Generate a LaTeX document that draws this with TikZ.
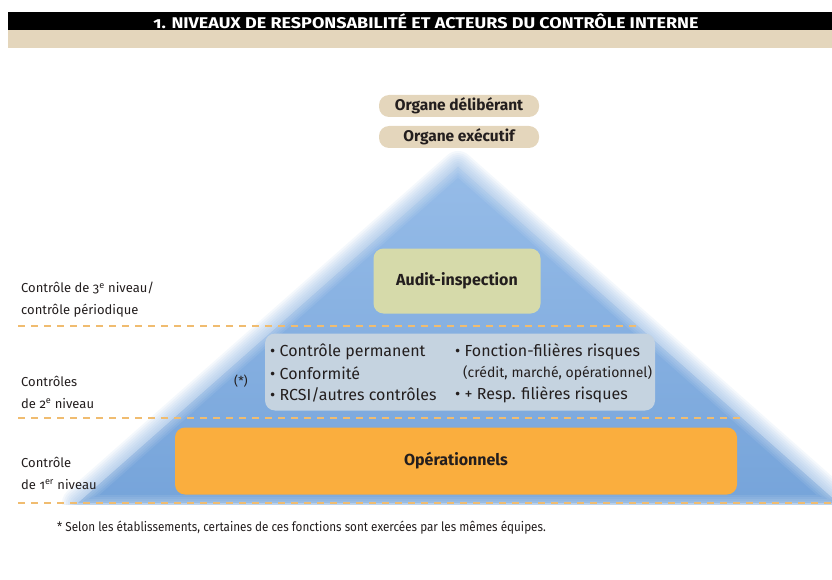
\documentclass[tikz,border=0pt]{standalone}
\usepackage{fontspec}
\setmainfont{Fira Sans}[Numbers=OldStyle]
\usetikzlibrary{positioning}

\definecolor{beige}{RGB}{228,214,188}
\definecolor{pyrblue}{RGB}{118,164,218}
\definecolor{pyrtop}{RGB}{150,188,232}
\definecolor{auditgreen}{RGB}{214,218,170}
\definecolor{ctrlgrey}{RGB}{197,211,224}
\definecolor{opeorange}{RGB}{250,174,62}
\definecolor{dashorange}{RGB}{240,188,112}
\definecolor{ink}{RGB}{35,30,30}

\begin{document}
\begin{tikzpicture}[x=1pt, y=-1pt, text=ink,
    pill/.style={rounded corners=10pt, fill=beige, minimum width=160pt, minimum height=22pt,
      inner sep=0pt, font=\bfseries\fontsize{15.5}{17}\selectfont},
    levelbox/.style={rounded corners=10pt, inner sep=0pt},
    level/.style={dash pattern=on 7pt off 6pt, line width=1.3pt, draw=dashorange},
    side/.style={anchor=west, align=left, inner sep=0pt, font=\fontsize{13}{22}\selectfont},
    item/.style={anchor=west, inner sep=0pt, font=\fontsize{16}{18}\selectfont}]
  \useasboundingbox (0,0) rectangle (832,580);

  % title band
  \fill[black] (8,12) rectangle (832,30);
  \fill[beige] (8,30) rectangle (832,48);
  \node[text=white, font=\bfseries\fontsize{15.5}{16}\selectfont] (title) at (426,21)
    {\scalebox{1.16}[1]{1. NIVEAUX DE RESPONSABILITÉ ET ACTEURS DU CONTRÔLE INTERNE}};

  % top organs
  \node[pill] (delib) at (459,106) {Organe délibérant};
  \node[pill] (exec) at (459,137) {Organe exécutif};

  % pyramid, edges blurred on both sides
  \coordinate (apex) at (458,167);
  \coordinate (baseL) at (78,503);
  \coordinate (baseR) at (838,503);
  \begin{scope}
    \clip (0,150) rectangle (832,504);
    \foreach \w in {32,28,24,20,16,12,8,4}
      \draw[pyrblue, opacity=0.08, line width=\w pt, line join=round] (apex) -- (baseL) -- (baseR) -- cycle;
    \shade[top color=pyrtop, bottom color=pyrblue] (apex) -- (baseL) -- (baseR) -- cycle;
    \clip (apex) -- (baseL) -- (baseR) -- cycle;
    \foreach \w in {16,12,8,4}
      \draw[white, opacity=0.08, line width=\w pt, line join=round] (apex) -- (baseL) -- (baseR) -- cycle;
  \end{scope}

  % level separators
  \draw[level] (18,326) -- (640,326);
  \draw[level] (18,418) -- (744,418);
  \draw[level] (18,503) -- (832,503);

  % boxes in the pyramid
  \node[levelbox, fill=auditgreen, minimum width=167pt, minimum height=65pt,
    font=\bfseries\fontsize{16}{18}\selectfont] (audit) at (457,281) {Audit-inspection};
  \node[levelbox, fill=ctrlgrey, minimum width=390pt, minimum height=77pt] (ctrl) at (460,372) {};
  \node[levelbox, fill=opeorange, minimum width=562pt, minimum height=67pt,
    font=\bfseries\fontsize{16}{18}\selectfont] (ope) at (456,461) {Opérationnels};

  % second level items
  \node[item] (perm) at (270,352) {• Contrôle permanent};
  \node[item] (conf) at (270,373) {• Conformité};
  \node[item] (rcsi) at (270,395) {• RCSI/autres contrôles};
  \node[item] (fil) at (455,352) {• Fonction-filières risques};
  \node[item, font=\fontsize{14}{16}\selectfont] (filx) at (463,373) {(crédit, marché, opérationnel)};
  \node[item] (resp) at (455,395) {• + Resp. filières risques};
  \node[font=\fontsize{12.5}{14}\selectfont] (star) at (241,381) {(*)};

  % level names
  \node[side] (lvl3) at (21,300) {Contrôle de 3\textsuperscript{e} niveau/\\contrôle périodique};
  \node[side] (lvl2) at (21,392) {Contrôles\\de 2\textsuperscript{e} niveau};
  \node[side] (lvl1) at (21,473) {Contrôle\\de 1\textsuperscript{er} niveau};

  % footnote
  \node[anchor=west, inner sep=0pt, font=\fontsize{13}{15}\selectfont] (note) at (57,528)
    {\scalebox{0.9}[1]{* Selon les établissements, certaines de ces fonctions sont exercées par les mêmes équipes.}};
\end{tikzpicture}
\end{document}
